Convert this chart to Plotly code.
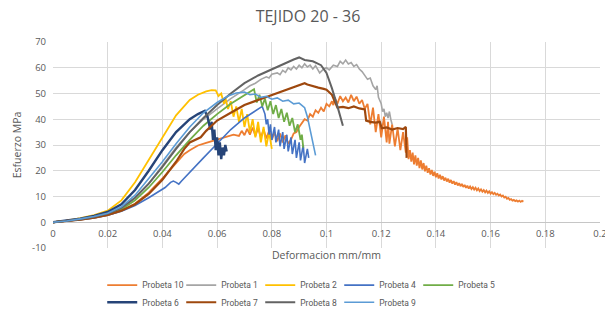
import plotly.graph_objects as go

# ---------------- data ----------------
p10_x = [0, .005, .01, .015, .02, .025, .03, .035, .04, .045, .048, .05, .053, .056, .06, .063, .066,
         .068, .069, .07, .071, .072, .073, .074, .075, .076, .077, .078, .079, .080, .081, .082, .083,
         .084, .085, .086, .087, .088, .089, .090, .091, .092, .093, .094, .095, .096, .097, .098, .099,
         .100, .101, .102, .1025, .103, .104, .105, .106, .107, .108, .109, .110, .111, .112, .113, .114,
         .115, .116, .117, .118, .119, .120, .121, .122, .1225, .123, .124, .125, .126, .127, .128, .129,
         .1295, .130, .1305, .131, .1315, .132, .1325, .133, .1335, .134, .1345, .135, .1355, .136, .1365,
         .137, .1375, .138, .1385, .139, .1395, .140, .1405, .141, .1415, .142, .1425, .143, .1435, .144,
         .1445, .145, .1455, .146, .1465, .147, .1475, .148, .1485, .149, .1495, .150, .1505, .151, .1515,
         .152, .1525, .153, .1535, .154, .1545, .155, .1555, .156, .1565, .157, .1575, .158, .1585, .159,
         .1595, .160, .1605, .161, .1615, .162, .1625, .163, .1635, .164, .1645, .165, .1655, .166, .1665,
         .167, .1675, .168, .1685, .169, .1695, .170, .1705, .171, .1715, .172]
p10_y = [0, .4, 1, 1.7, 2.8, 4.5, 7.2, 11.5, 17, 23, 26.5, 28, 29.8, 30.8, 32, 33, 34,
         33.5, 35.5, 33.8, 36.3, 34, 36.8, 33.5, 36.5, 33, 36, 32.5, 35.5, 32, 35, 31.5, 34.5,
         31, 33.8, 30.5, 32, 34.5, 35, 37, 38.5, 40, 39.5, 42, 41, 43.5, 42.5, 44.5, 43,
         46, 45, 47, 45.5, 48.5, 46, 49, 47, 48.5, 46.5, 49.5, 47, 48.8, 46, 47.5, 44,
         46, 38, 44.5, 35, 42, 33, 41, 31, 39, 30.5, 38, 29.5, 36.5, 28, 35, 27,
         33, 24.5, 28, 23.5, 27, 22.5, 26, 22, 25, 21, 24, 20.5, 23, 19.8, 22,
         19.2, 21, 18.5, 20.3, 18, 19.6, 17.5, 19, 17, 18.4, 16.6, 17.9, 16.2, 17.3, 15.8,
         16.9, 15.4, 16.4, 15, 16, 14.6, 15.6, 14.3, 15.2, 14, 14.9, 13.7, 14.5, 13.4, 14.2,
         13.1, 13.9, 12.9, 13.6, 12.7, 13.4, 12.4, 13.1, 12.1, 12.8, 11.9, 12.5, 11.6, 12.3, 11.4,
         12, 11.1, 11.7, 10.9, 11.4, 10.7, 11.1, 10.4, 10.8, 10, 10.4, 9.6, 9.9, 9.1, 9.4,
         8.7, 9, 8.4, 8.7, 8.2, 8.5, 8, 8.4, 7.9, 8.3, 8]

p1_x = [0, .005, .01, .015, .02, .025, .03, .035, .04, .045, .05, .055, .06, .065, .07, .072, .074,
        .076, .078, .079, .08, .082, .083, .084, .085, .086, .087, .088, .089, .09, .091, .092, .093,
        .094, .095, .096, .0975, .099, .1, .101, .1025, .104, .105, .106, .107, .108, .109, .110, .111,
        .112, .113, .114, .115, .116, .117, .118, .1185, .119, .12, .1205, .121, .1215, .122, .1225,
        .123, .1235, .124]
p1_y = [0, .5, 1.2, 2, 3.2, 5.5, 9.5, 15, 22, 29, 35, 40, 44, 48, 51.5, 53, 54,
        55.5, 56.5, 56, 57.5, 58, 57.3, 59, 58.2, 60, 59.2, 60.5, 59.5, 61, 60, 61.5, 60.3,
        61, 59.5, 60.8, 58, 59.5, 60, 59.2, 61, 60.5, 62.5, 61.5, 63, 61.5, 62, 60.5, 61.2,
        59.5, 58.5, 57, 55.5, 56, 53, 51.5, 53, 48.5, 46, 43, 44, 41, 42.5, 40.5,
        43, 40, 38]

p2_x = [0, .005, .01, .015, .02, .025, .03, .035, .04, .045, .05, .053, .056, .058, .0595, .0605,
        .0615, .0625, .063, .064, .065, .066, .067, .068, .069, .070, .071, .072, .073, .074, .075,
        .076, .077, .078, .079, .080]
p2_y = [0, .6, 1.6, 2.8, 4.5, 8.5, 15.5, 24, 33, 41.5, 47.5, 49.5, 50.8, 51.3, 51.2, 49,
        50, 46, 48.5, 44, 47, 41, 45, 39, 44, 37, 42, 35, 40, 33, 39,
        31, 37, 29.5, 35, 28.5]

p4_x = [0, .005, .01, .015, .02, .025, .03, .035, .038, .041, .043, .044, .045, .046, .047, .05,
        .055, .06, .065, .07, .075, .0765, .0775, .078, .0785, .079, .0795, .080, .081, .0815, .0825,
        .083, .084, .0845, .0855, .086, .087, .0875, .0885, .089, .090, .0905, .0915, .092, .093, .0935]
p4_y = [0, .4, 1, 1.7, 2.7, 4.3, 6.5, 9.5, 11.5, 13.5, 15.5, 16, 15.5, 14.8, 16, 19.5,
        25, 30.5, 36, 40.5, 44, 45, 42, 38, 40, 34, 38, 32, 37, 31, 36,
        29.5, 35, 28.5, 34, 27.5, 33, 26.5, 32, 25, 31, 24, 30, 23, 28.5, 25]

p5_x = [0, .005, .01, .015, .02, .025, .03, .035, .04, .045, .05, .055, .06, .065, .07, .072, .0735,
        .0745, .0755, .0765, .0775, .0785, .0795, .0805, .0815, .0825, .0835, .0845, .0855, .0865,
        .0875, .0885, .0895, .0905, .091, .0915]
p5_y = [0, .5, 1.1, 1.9, 3, 5, 8.5, 13.5, 19.5, 26, 32, 37.5, 42, 46, 49.5, 50.8, 51.7,
        46.5, 49.5, 45, 48, 43.5, 47, 42, 45.5, 40.5, 44, 39, 42.5, 37.5,
        40.5, 35, 38, 32, 34, 29]

p6_x = [0, .005, .01, .015, .02, .025, .03, .035, .04, .045, .05, .053, .0555, .0565, .0575, .058,
        .0585, .059, .0595, .060, .0605, .061, .0615, .062, .0625, .063, .0635]
p6_y = [0, .6, 1.4, 2.5, 4, 7, 12.5, 20, 28, 35, 40, 42, 43.3, 41, 36, 39,
        32, 36, 28, 33, 26, 31, 24.5, 29, 26, 30, 27.5]

p7_x = [0, .005, .01, .015, .02, .025, .03, .035, .04, .045, .048, .05, .052, .054, .056, .06, .065,
        .07, .075, .08, .085, .09, .092, .093, .095, .097, .099, .1, .101, .102, .103, .104, .106,
        .108, .110, .112, .114, .1145, .116, .118, .1195, .1202, .122, .124, .126, .128, .129, .1293]
p7_y = [0, .4, 1, 1.8, 2.8, 4.5, 7, 11, 16.5, 23.5, 28.5, 31, 32, 33, 35.5, 39.5, 42.5,
        45.5, 47.5, 49.5, 51.5, 53.2, 54, 53.5, 52.8, 52.3, 51.8, 51.5, 50.5, 49.5, 47, 44.5, 44.8,
        44.3, 45, 44.2, 43.8, 39.5, 39, 38.7, 39, 36.5, 36.8, 36, 36.6, 36.2, 37, 25]

p8_x = [0, .005, .01, .015, .02, .025, .03, .035, .04, .045, .05, .055, .06, .065, .07, .075, .08,
        .085, .088, .09, .092, .095, .098, .1, .102, .104, .105, .106]
p8_y = [0, .5, 1.2, 2.1, 3.4, 5.6, 9.5, 15, 21.5, 28.5, 35, 40.5, 45.5, 50, 54, 57, 59.5,
        62, 63.2, 64, 63, 62.5, 61, 58, 52, 45, 41, 37.5]

p9_x = [0, .005, .01, .015, .02, .025, .03, .035, .04, .045, .05, .055, .06, .064, .067, .07, .072,
        .074, .076, .078, .08, .082, .084, .086, .088, .09, .092, .093, .094, .095, .096]
p9_y = [0, .5, 1.3, 2.2, 3.5, 6, 10.5, 17, 23.5, 30.5, 37, 42.5, 46.5, 49, 50.2, 50.6, 49.5,
        49.8, 48.5, 48.9, 47.8, 48.3, 47, 47.4, 46, 46.3, 44.5, 41, 36, 30.5, 26]

series_names = ["Probeta 10", "Probeta 1", "Probeta 2", "Probeta 4", "Probeta 5",
                "Probeta 6", "Probeta 7", "Probeta 8", "Probeta 9"]
series_x = [p10_x, p1_x, p2_x, p4_x, p5_x, p6_x, p7_x, p8_x, p9_x]
series_y = [p10_y, p1_y, p2_y, p4_y, p5_y, p6_y, p7_y, p8_y, p9_y]
series_colors = ["#ED7D31", "#A5A5A5", "#FFC000", "#4472C4", "#70AD47",
                 "#264478", "#9E480E", "#636363", "#5B9BD5"]
series_widths = [1.8, 1.6, 1.8, 1.6, 1.8, 2.4, 2.2, 2.0, 1.6]
series_legend_row = ["legend", "legend", "legend", "legend", "legend",
                     "legend2", "legend2", "legend2", "legend2"]

x_tick_vals = [0, 0.02, 0.04, 0.06, 0.08, 0.1, 0.12, 0.14, 0.16, 0.18, 0.2]
x_tick_labels = ["0", "0.02", "0.04", "0.06", "0.08", "0.1", "0.12", "0.14", "0.16", "0.18", "0.2"]
y_tick_vals = [-10, 0, 10, 20, 30, 40, 50, 60, 70]
y_tick_labels = ["-10", "0", "10", "20", "30", "40", "50", "60", "70"]

title_text = "TEJIDO 20 - 36"
x_title = "Deformacion mm/mm"
y_title = "Esfuerzo MPa"

# ---------------- figure ----------------
FONT = "Open Sans"
TXT = "#595959"
GRID = "#d9d9d9"

fig = go.Figure()
for name, xs, ys, col, w, lg in zip(series_names, series_x, series_y, series_colors,
                                    series_widths, series_legend_row):
    fig.add_trace(go.Scatter(x=xs, y=ys, mode="lines", name=name, legend=lg,
                             line=dict(color=col, width=w)))

legend_common = dict(orientation="h", xanchor="left", yanchor="top",
                     entrywidth=34, entrywidthmode="pixels",
                     font=dict(size=8.5, color=TXT, family="Roboto"),
                     bgcolor="rgba(0,0,0,0)", tracegroupgap=0)

fig.update_layout(
    width=605, height=320,
    margin=dict(l=53, r=4.5, t=41.7, b=71.7, autoexpand=False),
    paper_bgcolor="white", plot_bgcolor="white",
    font=dict(family=FONT, color=TXT, size=10),
    title=dict(text=title_text, x=308 / 605, xref="container", xanchor="center",
               y=1 - 16 / 320, yref="container", yanchor="middle",
               font=dict(size=16, color=TXT, family=FONT)),
    showlegend=True,
    legend=dict(x=0.090, y=-0.11, **legend_common),
    legend2=dict(x=0.090, y=-0.193, **legend_common),
)

fig.update_xaxes(
    range=[0, 0.2], tickvals=x_tick_vals, ticktext=x_tick_labels,
    showgrid=True, gridcolor=GRID, gridwidth=1, zeroline=False,
    showline=False, ticks="", anchor="free", position=0.125, automargin=False,
    ticklabeloverflow="allow",
    tickfont=dict(size=9.5, color=TXT), ticklabelstandoff=4,
    title=dict(text=x_title, font=dict(size=10.5, color=TXT), standoff=12),
)
fig.update_yaxes(
    range=[-10, 70], tickvals=y_tick_vals, ticktext=y_tick_labels,
    showgrid=True, gridcolor=GRID, gridwidth=1, automargin=False,
    zeroline=True, zerolinecolor="#c6c6c6", zerolinewidth=1,
    showline=False, ticks="", tickfont=dict(size=9.5, color=TXT), ticklabelstandoff=6,
    title=dict(text=y_title, font=dict(size=10.5, color=TXT), standoff=8),
)

fig.write_html("out.html", config={"displayModeBar": False},
               post_script="document.body.style.margin='0px';")
